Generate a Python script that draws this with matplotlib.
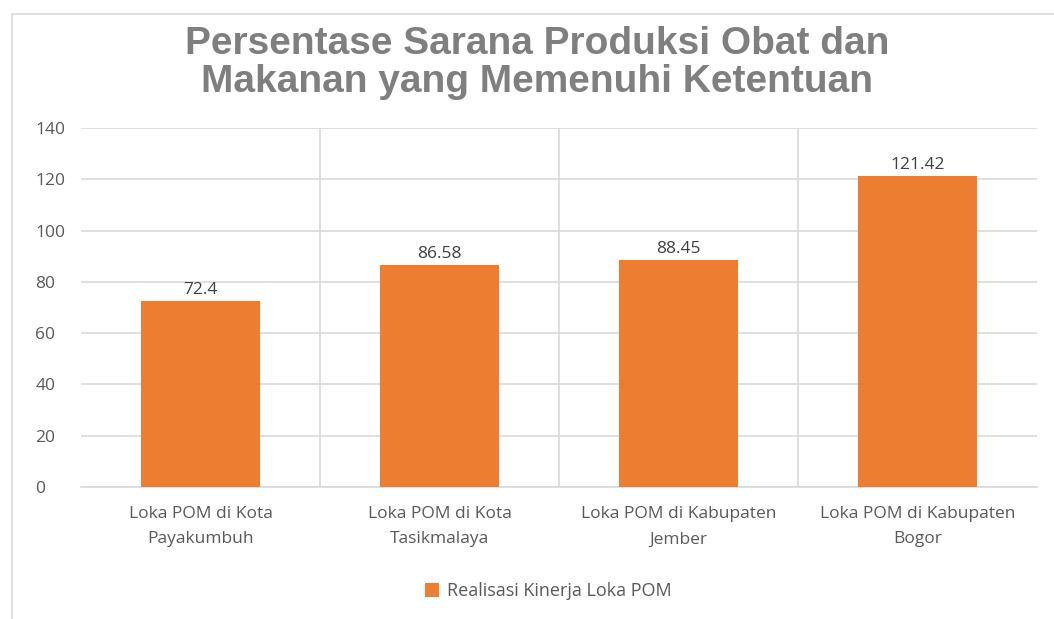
import matplotlib
matplotlib.use('Agg')
import matplotlib.pyplot as plt
from matplotlib.patches import Rectangle

# data
categories = [
    'Loka POM di Kota\nPayakumbuh',
    'Loka POM di Kota\nTasikmalaya',
    'Loka POM di Kabupaten\nJember',
    'Loka POM di Kabupaten\nBogor',
]
values = [72.4, 86.58, 88.45, 121.42]
value_labels = ['72.4', '86.58', '88.45', '121.42']
y_ticks = [0, 20, 40, 60, 80, 100, 120, 140]
series_name = 'Realisasi Kinerja Loka POM'
title = 'Persentase Sarana Produksi Obat dan\nMakanan yang Memenuhi Ketentuan'

BAR_COLOR = '#ED7D31'
GRID_COLOR = '#D9D9D9'
TEXT_COLOR = '#595959'

plt.rcParams['font.family'] = ['Open Sans', 'DejaVu Sans']

fig = plt.figure(figsize=(10.54, 6.19), dpi=100)

# outer chart border
fig.patches.append(Rectangle((12 / 1054, -0.1), 1.2, 1 - 14 / 619 + 0.1,
                             transform=fig.transFigure, fill=False,
                             edgecolor='#D9D9D9', linewidth=1.2))

ax = fig.add_axes([81 / 1054, 1 - 487 / 619, (1037 - 81) / 1054, (487 - 128) / 619])

x = list(range(len(categories)))
bars = ax.bar(x, values, width=0.5, color=BAR_COLOR, zorder=3, label=series_name)

for xi, v, lab in zip(x, values, value_labels):
    ax.text(xi, v + 1.2, lab, ha='center', va='bottom', fontsize=12.5, color='#404040')

ax.set_xlim(-0.5, len(categories) - 0.5)
ax.set_ylim(0, 140)
ax.set_yticks(y_ticks)
ax.set_xticks(x)
ax.set_xticklabels(categories, fontsize=12.5, color=TEXT_COLOR, linespacing=1.75)
ax.tick_params(axis='y', labelsize=12.5, labelcolor=TEXT_COLOR, length=0, pad=33)
ax.tick_params(axis='x', length=0, pad=14)

ax.yaxis.grid(True, color=GRID_COLOR, linewidth=1.2, zorder=0)
for b in range(1, len(categories)):
    ax.axvline(b - 0.5, color=GRID_COLOR, linewidth=1.2, zorder=0)

for s in ['top', 'right', 'left']:
    ax.spines[s].set_visible(False)
ax.spines['bottom'].set_color(GRID_COLOR)
ax.spines['bottom'].set_linewidth(1.2)

for lbl in ax.get_yticklabels():
    lbl.set_horizontalalignment('left')

fig.text(537 / 1054, 1 - 63 / 619, title, ha='center', va='center',
         fontsize=28, fontweight='bold', color='#7F7F7F',
         family=['Liberation Sans', 'DejaVu Sans'], linespacing=1.08)

fig.legend(handles=[bars], labels=[series_name], loc='center',
           bbox_to_anchor=(548 / 1054, 1 - 591 / 619), frameon=False,
           fontsize=13, handlelength=0.8, handleheight=0.8, handletextpad=0.4,
           labelcolor=TEXT_COLOR)

fig.savefig('out.png', dpi=100)
